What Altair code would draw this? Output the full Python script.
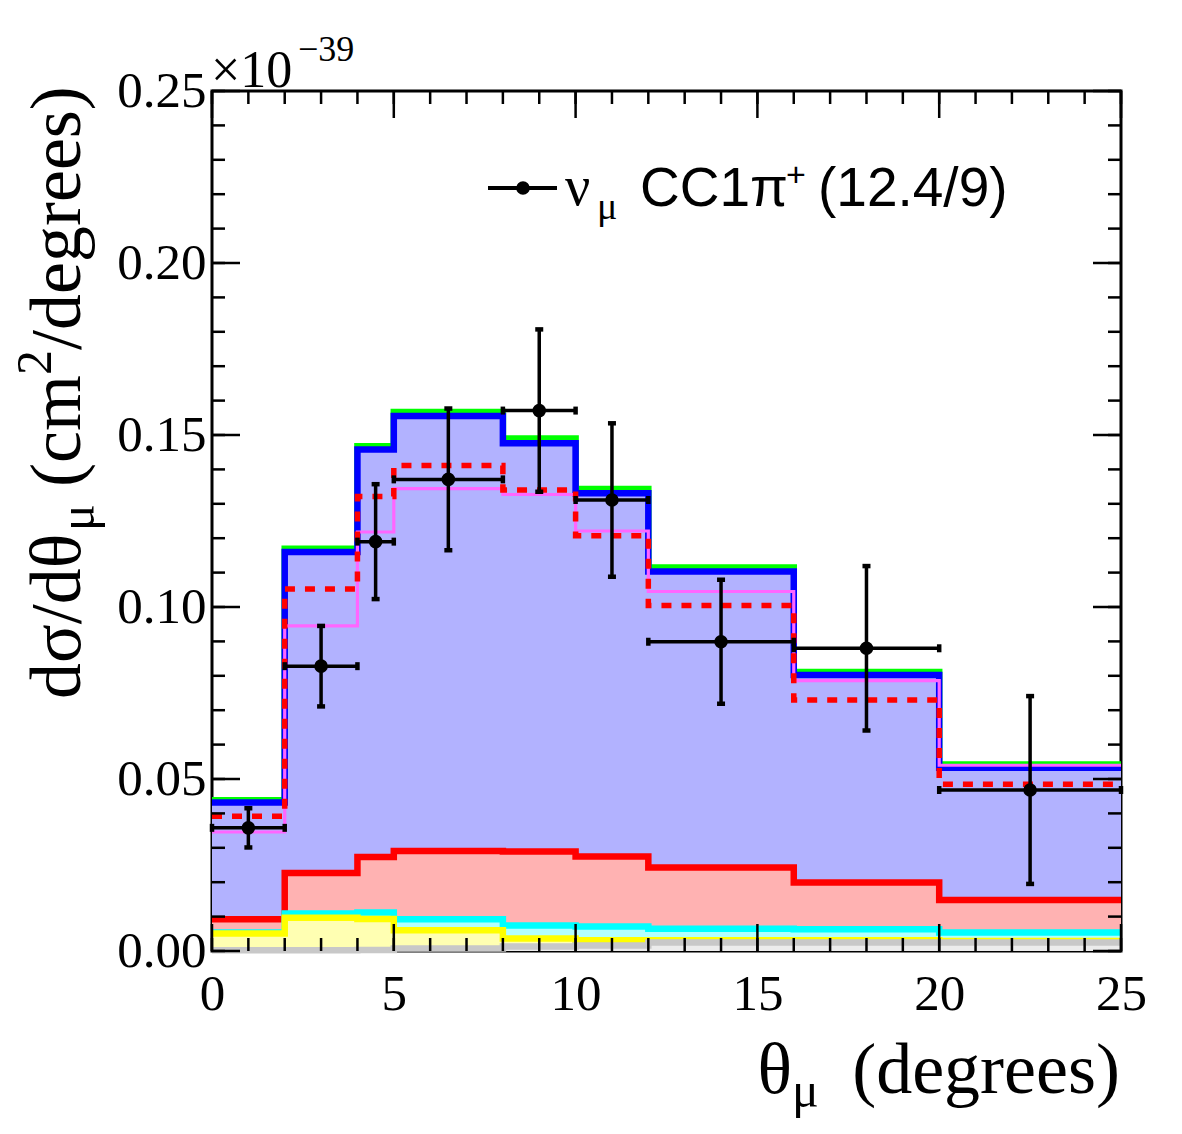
import altair as alt
import pandas as pd

SERIF = "Liberation Serif"
SANS = "Liberation Sans"

# Bin edges of the muon-angle histogram (degrees)
edges = [0, 2, 4, 5, 8, 10, 12, 16, 20, 25]

# Cumulative stack tops per bin, in units of 1e-39 cm^2/degree
top_green = [0.0438, 0.1169, 0.1467, 0.1567, 0.1490, 0.1343, 0.1115, 0.0811, 0.0542]
top_blue = [0.0432, 0.1160, 0.1458, 0.1555, 0.1476, 0.1331, 0.1103, 0.0802, 0.0533]
top_red = [0.0092, 0.0227, 0.0273, 0.0291, 0.0289, 0.0275, 0.0243, 0.0199, 0.0148]
top_cyan = [0.0054, 0.0109, 0.0112, 0.0092, 0.0074, 0.0071, 0.0065, 0.0063, 0.0054]
top_yellow = [0.0051, 0.0097, 0.0093, 0.0060, 0.0036, 0.0031, 0.0031, 0.0031, 0.0029]
top_gray = [0.0002, 0.0002, 0.0003, 0.0007, 0.0013, 0.0016, 0.0025, 0.0025, 0.0025]

# Alternative predictions (overlaid lines)
pred_dashed = [0.0392, 0.1052, 0.1321, 0.1411, 0.1340, 0.1207, 0.1004, 0.0730, 0.0485]
pred_magenta = [0.0346, 0.0945, 0.1218, 0.1344, 0.1327, 0.1221, 0.1045, 0.0786, 0.0540]

# Measured cross section
data_x = [1, 3, 4.5, 6.5, 9, 11, 14, 18, 22.5]
data_y = [0.0358, 0.0828, 0.1190, 0.1371, 0.1571, 0.1311, 0.0899, 0.0880, 0.0468]
data_err = [0.0057, 0.0117, 0.0167, 0.0206, 0.0236, 0.0223, 0.0180, 0.0239, 0.0273]

x_major = [0, 5, 10, 15, 20, 25]
x_minor = list(range(0, 26))
y_major = [0.0, 0.05, 0.10, 0.15, 0.20, 0.25]
y_minor = [i / 100 for i in range(0, 26)]

W, H = 909, 860
OX, OY = 212, 91  # plot origin on the page

xscale = alt.Scale(domain=[0, 25], nice=False, zero=False)
yscale = alt.Scale(domain=[0, 0.25], nice=False, zero=False)
xaxis = alt.Axis(values=x_major, format="d", title=None, ticks=False, domain=False,
                 grid=False, labelFont=SERIF, labelFontSize=51, labelPadding=18,
                 labelFlush=False, labelColor="black")
yaxis = alt.Axis(values=y_major, format=".2f", title=None, ticks=False, domain=False,
                 grid=False, labelFont=SERIF, labelFontSize=51, labelPadding=6,
                 labelFlush=False, labelColor="black")


def X(f):
    return alt.X(f, type="quantitative", scale=xscale, axis=xaxis)


def Y(f):
    return alt.Y(f, type="quantitative", scale=yscale, axis=yaxis)


def step_frame(values):
    return pd.DataFrame({"x": edges, "y": list(values) + [values[-1]]})


layers = []

# Stacked components, drawn from the largest cumulative sum downwards
stack = [
    (top_green, "#b2ffb2", "#00ff00"),
    (top_blue, "#b2b2ff", "#0000ff"),
    (top_red, "#ffb2b2", "#ff0000"),
    (top_cyan, "#b2ffff", "#00ffff"),
    (top_yellow, "#ffffb2", "#ffff00"),
    (top_gray, "#ececec", "#c8c8c8"),
]
for vals, fill, line in stack:
    df = step_frame(vals)
    layers.append(alt.Chart(df).mark_area(interpolate="step-after", color=fill, opacity=1)
                  .encode(x=X("x"), y=Y("y")))
    layers.append(alt.Chart(df).mark_line(interpolate="step-after", color=line, strokeWidth=6.5,
                                          strokeJoin="miter", strokeCap="butt")
                  .encode(x=X("x"), y=Y("y")))

# Overlaid predictions
layers.append(alt.Chart(step_frame(pred_magenta)).mark_line(
    interpolate="step-after", color="#ff66ff", strokeWidth=3.2, strokeJoin="miter")
    .encode(x=X("x"), y=Y("y")))
layers.append(alt.Chart(step_frame(pred_dashed)).mark_line(
    interpolate="step-after", color="#ff0000", strokeWidth=5.5, strokeDash=[10, 10],
    strokeJoin="miter", strokeCap="butt")
    .encode(x=X("x"), y=Y("y")))

# Data points with error bars
pts = pd.DataFrame({
    "x": data_x,
    "y": data_y,
    "lo": [v - e for v, e in zip(data_y, data_err)],
    "hi": [v + e for v, e in zip(data_y, data_err)],
    "xlo": edges[:-1],
    "xhi": edges[1:],
})
base = alt.Chart(pts)
layers.append(base.mark_rule(color="black", strokeWidth=3.5)
              .encode(x=X("x"), y=Y("lo"), y2=alt.Y2("hi")))
layers.append(base.mark_rule(color="black", strokeWidth=3.5)
              .encode(x=X("xlo"), x2=alt.X2("xhi"), y=Y("y")))
for f in ["lo", "hi"]:
    layers.append(base.mark_tick(orient="horizontal", size=8, thickness=4.5, color="black", opacity=1)
                  .encode(x=X("x"), y=Y(f)))
for f in ["xlo", "xhi"]:
    layers.append(base.mark_tick(orient="vertical", size=8, thickness=4.5, color="black", opacity=1)
                  .encode(x=X(f), y=Y("y")))
layers.append(base.mark_circle(size=185, color="black", opacity=1)
              .encode(x=X("x"), y=Y("y")))

# Inward tick marks on all four sides
def xticks(vals, length):
    d = alt.Chart(pd.DataFrame({"v": vals}))
    return [
        d.mark_rule(color="black", strokeWidth=2.5).encode(
            x=X("v"), y=alt.value(H), y2=alt.value(H - length)),
        d.mark_rule(color="black", strokeWidth=2.5).encode(
            x=X("v"), y=alt.value(0), y2=alt.value(length)),
    ]


def yticks(vals, length):
    d = alt.Chart(pd.DataFrame({"v": vals}))
    return [
        d.mark_rule(color="black", strokeWidth=2.5).encode(
            y=Y("v"), x=alt.value(0), x2=alt.value(length)),
        d.mark_rule(color="black", strokeWidth=2.5).encode(
            y=Y("v"), x=alt.value(W), x2=alt.value(W - length)),
    ]


layers += xticks(x_minor, 13) + xticks(x_major, 27)
layers += yticks(y_minor, 13) + yticks(y_major, 28)


def label(txt, px, py, size, font=SERIF, align="left", angle=0, baseline="alphabetic"):
    return alt.Chart(pd.DataFrame({"t": [txt]})).mark_text(
        font=font, fontSize=size, align=align, baseline=baseline, angle=angle, color="black"
    ).encode(x=alt.value(px - OX), y=alt.value(py - OY), text="t:N")


# Axis titles
layers.append(label("(degrees)", 1120, 1093, 72, align="right"))
layers.append(label("\u03bc", 792, 1107, 50))
layers.append(label("\u03b8", 792, 1093, 72, align="right"))

yt_x = 80
layers.append(label("d\u03c3/d\u03b8", yt_x, 699, 72, angle=270))
layers.append(label("\u03bc", yt_x + 14, 531, 50, angle=270))
layers.append(label("(cm", yt_x, 487, 72, angle=270))
layers.append(label("2", yt_x - 29, 375, 50, angle=270))
layers.append(label("/degrees)", yt_x, 350, 72, angle=270))

# Common exponent of the y axis
layers.append(label("\u00d710", 211, 87, 52))
layers.append(label("\u221239", 298, 61, 36))

# Legend entry
leg = alt.Chart(pd.DataFrame({"t": [0]}))
layers.append(leg.mark_rule(color="black", strokeWidth=4).encode(
    x=alt.value(488 - OX), x2=alt.value(557 - OX), y=alt.value(188 - OY)))
layers.append(leg.mark_circle(size=185, color="black", opacity=1).encode(
    x=alt.value(523 - OX), y=alt.value(188 - OY)))
layers.append(label("\u03bd", 565, 205, 56))
layers.append(label("\u03bc", 597, 219, 38))
layers.append(label("CC1\u03c0", 640, 206, 55, font=SANS))
layers.append(label("+", 786, 186, 34, font=SANS))
layers.append(label("(12.4/9)", 818, 206, 55, font=SANS))

chart = alt.layer(*layers).properties(
    width=W, height=H, autosize="none",
    padding={"left": OX, "top": OY, "right": 1182 - OX - W, "bottom": 1134 - OY - H},
).configure_view(stroke="black", strokeWidth=3)

chart.save("out.html", embed_options={"renderer": "svg", "actions": False})
